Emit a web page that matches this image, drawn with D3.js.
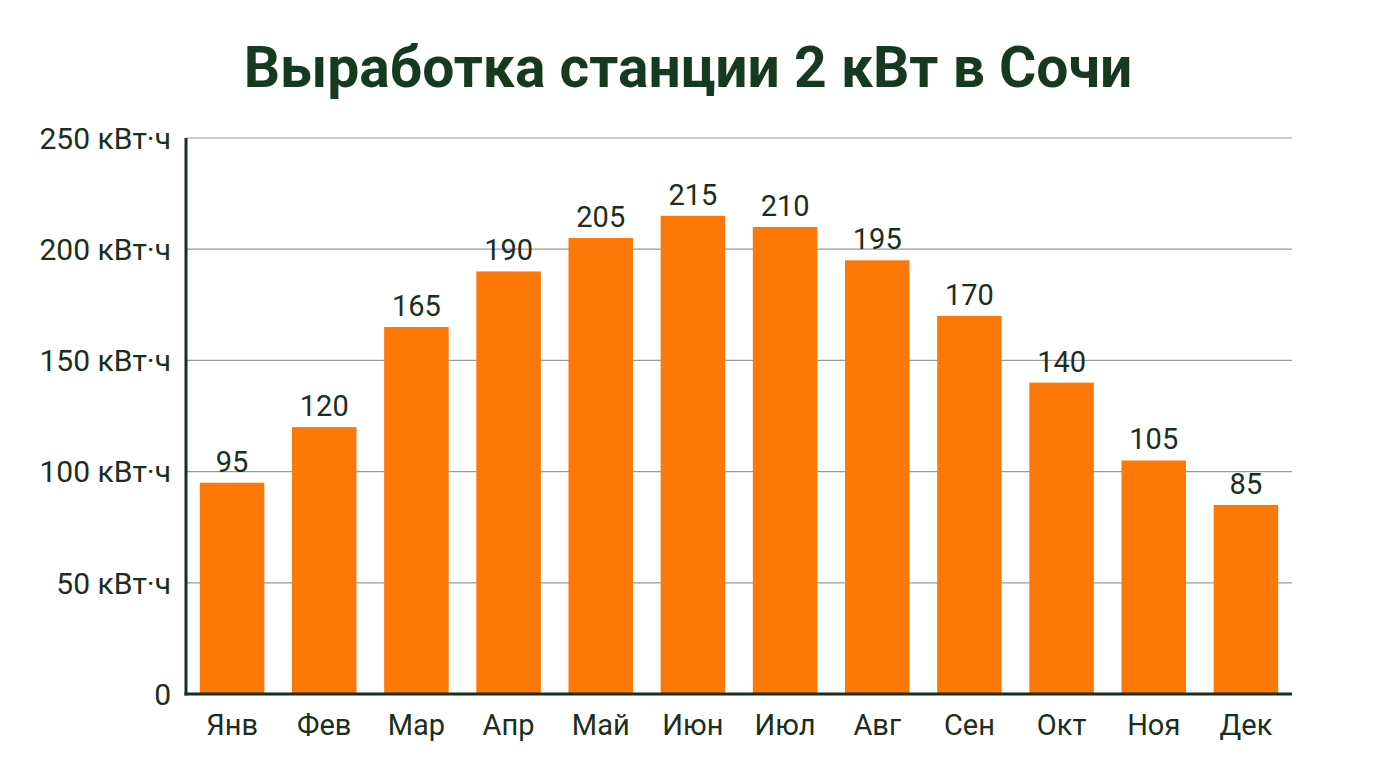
<!DOCTYPE html>
<html><head><meta charset="utf-8">
<script src="https://cdn.jsdelivr.net/npm/d3@7"></script>
<style>
html,body{margin:0;padding:0;background:#fff;}
svg{display:block;}
</style>
</head><body>
<svg id="chart" width="1376" height="768"></svg>
<script>
const months = ["Янв","Фев","Мар","Апр","Май","Июн","Июл","Авг","Сен","Окт","Ноя","Дек"];
const values = [95,120,165,190,205,215,210,195,170,140,105,85];
const yTicks = [0,50,100,150,200,250];
const title = "Выработка станции 2 кВт в Сочи";
const unit = " кВт·ч";

const svg = d3.select("#chart");
const margin = {left:186, right:84, top:138, bottom:74};
const W = 1376, H = 768;
const textColor = "#1b2e20";

const x = d3.scaleBand().domain(months).range([margin.left, W - margin.right]).paddingInner(0.3).paddingOuter(0.15);
const y = d3.scaleLinear().domain([0,250]).range([H - margin.bottom, margin.top]);

svg.append("text").attr("x", 688).attr("y", 87).attr("text-anchor","middle")
  .attr("font-family","Roboto, sans-serif").attr("font-weight","bold")
  .attr("font-size", 57).attr("fill","#163a20").text(title);

// gridlines
svg.append("g").selectAll("line").data(yTicks.filter(d=>d>0)).join("line")
  .attr("x1", margin.left).attr("x2", W - margin.right)
  .attr("y1", d=>y(d)).attr("y2", d=>y(d))
  .attr("stroke","#9a9a9a").attr("stroke-width",1.2);

// y labels
svg.append("g").selectAll("text").data(yTicks).join("text")
  .attr("x", margin.left - 15).attr("y", d=>y(d)).attr("dy","0.36em")
  .attr("text-anchor","end").attr("font-family","Roboto, sans-serif").attr("font-size",30)
  .attr("fill",textColor).text(d=> d===0 ? "0" : d + unit);

// bars
svg.append("g").selectAll("rect").data(values).join("rect")
  .attr("x",(d,i)=>x(months[i])).attr("width",x.bandwidth())
  .attr("y",d=>y(d)).attr("height",d=>y(0)-y(d))
  .attr("fill","#fd7806");

// value labels
svg.append("g").selectAll("text").data(values).join("text")
  .attr("x",(d,i)=>x(months[i]) + x.bandwidth()/2).attr("y",d=>y(d)-11)
  .attr("text-anchor","middle").attr("font-family","Roboto, sans-serif").attr("font-size",29)
  .attr("fill",textColor).text(d=>d);

// x labels
svg.append("g").selectAll("text").data(months).join("text")
  .attr("x",d=>x(d) + x.bandwidth()/2).attr("y", H - margin.bottom + 41)
  .attr("text-anchor","middle").attr("font-family","Roboto, sans-serif").attr("font-size",29)
  .attr("fill",textColor).text(d=>d);

// axes lines
svg.append("line").attr("x1",margin.left).attr("x2",margin.left)
  .attr("y1",margin.top).attr("y2",y(0)+1.5).attr("stroke","#17301d").attr("stroke-width",3);
svg.append("line").attr("x1",margin.left-1.5).attr("x2",W - margin.right)
  .attr("y1",y(0)).attr("y2",y(0)).attr("stroke","#17301d").attr("stroke-width",3);
</script>
</body></html>
